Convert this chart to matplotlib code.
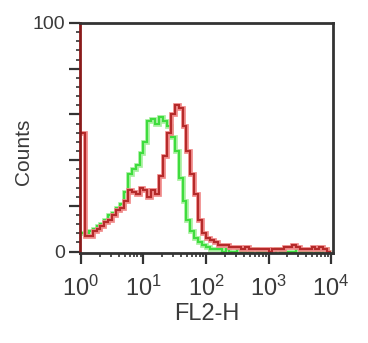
import matplotlib.pyplot as plt
import numpy as np
from matplotlib.ticker import FixedLocator, LogLocator, NullFormatter

plt.rcParams['font.family'] = ['Liberation Sans', 'DejaVu Sans']
plt.rcParams['mathtext.fontset'] = 'custom'
plt.rcParams['mathtext.rm'] = 'Liberation Sans'
plt.rcParams['mathtext.it'] = 'Liberation Sans'

# 64 channels over 4 decades (FL2-H)
edges = np.logspace(0, 4, 65)

green_counts = [8, 8, 9, 10, 11, 12, 14, 16, 17, 19, 21, 26,
                34, 36, 38, 43, 48, 57, 58, 56, 59, 57, 55, 50,
                44, 32, 22, 14, 9, 6, 4, 3, 2, 1, 1, 1,
                0, 1, 0, 0, 1, 0, 0, 0, 1, 0, 0, 0,
                0, 0, 1, 0, 0, 0, 0, 1, 0, 0, 0, 1,
                0, 0, 1, 0]

red_counts = [52, 7, 7, 9, 10, 11, 13, 14, 16, 18, 19, 22,
              27, 26, 25, 28, 27, 24, 27, 25, 33, 42, 52, 60,
              64, 63, 55, 44, 34, 25, 14, 8, 6, 5, 4, 3,
              3, 3, 2, 2, 2, 1, 2, 1, 1, 1, 1, 1,
              0, 1, 1, 1, 2, 2, 3, 2, 1, 1, 1, 2,
              1, 2, 1, 0]

xticks = [1, 10, 100, 1000, 10000]
xticklabels = ['$10^0$', '$10^1$', '$10^2$', '$10^3$', '$10^4$']
yticks = [0, 20, 40, 60, 80, 100]
yticklabels = ['0', '', '', '', '', '100']

fig = plt.figure(figsize=(3.68, 3.43), dpi=100)
ax = fig.add_axes((0.2174, 0.2624, 0.6875, 0.6706))

# soft halo + core line, like the scanned FACS plot
ax.stairs(green_counts, edges, baseline=None, color='#a8f0a0', lw=3.4)
ax.stairs(green_counts, edges, baseline=None, color='#3edc3e', lw=1.5)
ax.stairs(red_counts, edges, baseline=None, color='#f08a8a', lw=3.4)
ax.stairs(red_counts, edges, baseline=None, color='#b52a2a', lw=1.5)

ax.set_xscale('log')
ax.set_xlim(10 ** -0.015, 10 ** 4.03)
ax.set_ylim(-0.6, 100)

ax.set_xticks(xticks)
ax.set_xticklabels(xticklabels, fontsize=17, color='#3a3a3a')
ax.xaxis.set_minor_locator(LogLocator(base=10, subs=np.arange(2, 10)))
ax.xaxis.set_minor_formatter(NullFormatter())

ax.set_yticks(yticks)
ax.set_yticklabels(yticklabels, fontsize=14, color='#3a3a3a')
ax.yaxis.set_minor_locator(FixedLocator(np.arange(0, 101, 4)))

ax.tick_params(which='major', direction='out', length=8, width=1.6, color='#333333')
ax.tick_params(axis='x', which='major', pad=8)
ax.tick_params(axis='y', which='major', pad=3)
ax.tick_params(which='minor', direction='out', length=3, width=1.2, color='#333333')

for side in ['top', 'right', 'bottom']:
    ax.spines[side].set_linewidth(2)
    ax.spines[side].set_color('#333333')
ax.spines['left'].set_linewidth(2)
ax.spines['left'].set_color('#8a1a1a')

ax.set_xlabel('FL2-H', fontsize=17, color='#3a3a3a', labelpad=2)
ax.set_ylabel('Counts', fontsize=15, color='#3a3a3a')
ax.yaxis.set_label_coords(-0.185, 0.44)

fig.savefig('out.png', dpi=100)
